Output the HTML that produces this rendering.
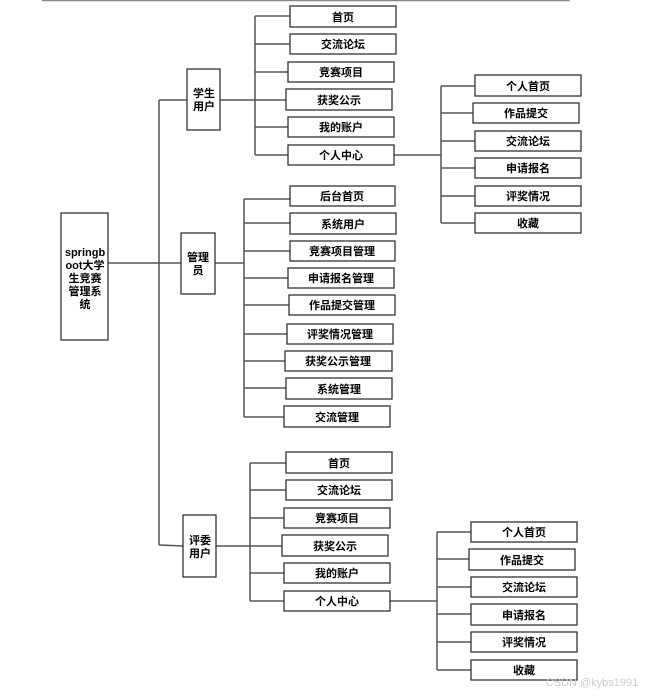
<!DOCTYPE html>
<html><head><meta charset="utf-8"><style>
html,body{margin:0;padding:0;background:#fff;}
svg text{font-family:"Liberation Sans","Noto Sans CJK SC",sans-serif;font-size:11px;font-weight:bold;fill:#000;text-anchor:middle;}
</style></head><body>
<svg width="645" height="693" viewBox="0 0 645 693" xmlns="http://www.w3.org/2000/svg">
<line x1="42" y1="0.5" x2="570" y2="0.5" stroke="#888" stroke-width="1.5"/>
<g stroke="#555" stroke-width="1.5" fill="none">
<!-- main -->
<line x1="108" y1="263" x2="181" y2="263"/>
<line x1="159" y1="100" x2="159" y2="545"/>
<line x1="159" y1="100" x2="187" y2="100"/>
<line x1="159" y1="545" x2="183" y2="546"/>
<!-- student -->
<line x1="220" y1="100" x2="286" y2="100"/>
<line x1="255" y1="16" x2="255" y2="155"/>
<line x1="255" y1="16" x2="290" y2="16"/>
<line x1="255" y1="44" x2="290" y2="44"/>
<line x1="255" y1="72" x2="288" y2="72"/>
<line x1="255" y1="127" x2="288" y2="127"/>
<line x1="255" y1="155" x2="288" y2="155"/>
<line x1="394" y1="155" x2="441" y2="155"/>
<line x1="441" y1="86" x2="441" y2="223"/>
<line x1="441" y1="86" x2="475" y2="86"/>
<line x1="441" y1="113" x2="473" y2="113"/>
<line x1="441" y1="141" x2="475" y2="141"/>
<line x1="441" y1="168" x2="475" y2="168"/>
<line x1="441" y1="196" x2="475" y2="196"/>
<line x1="441" y1="223" x2="475" y2="223"/>
<!-- admin -->
<line x1="215" y1="263" x2="244" y2="263"/>
<line x1="244" y1="199" x2="244" y2="417"/>
<line x1="244" y1="199" x2="290" y2="199"/>
<line x1="244" y1="223" x2="290" y2="223"/>
<line x1="244" y1="251" x2="290" y2="251"/>
<line x1="244" y1="278" x2="288" y2="278"/>
<line x1="244" y1="305" x2="289" y2="305"/>
<line x1="244" y1="334" x2="287" y2="334"/>
<line x1="244" y1="361" x2="285" y2="361"/>
<line x1="244" y1="388" x2="286" y2="388"/>
<line x1="244" y1="417" x2="284" y2="417"/>
<!-- judge -->
<line x1="216" y1="546" x2="282" y2="546"/>
<line x1="250" y1="463" x2="250" y2="601"/>
<line x1="250" y1="463" x2="286" y2="463"/>
<line x1="250" y1="490" x2="286" y2="490"/>
<line x1="250" y1="518" x2="284" y2="518"/>
<line x1="250" y1="573" x2="284" y2="573"/>
<line x1="250" y1="601" x2="284" y2="601"/>
<line x1="390" y1="601" x2="437" y2="601"/>
<line x1="437" y1="532" x2="437" y2="670"/>
<line x1="437" y1="532" x2="471" y2="532"/>
<line x1="437" y1="559" x2="469" y2="559"/>
<line x1="437" y1="587" x2="471" y2="587"/>
<line x1="437" y1="614" x2="471" y2="614"/>
<line x1="437" y1="642" x2="471" y2="642"/>
<line x1="437" y1="670" x2="471" y2="670"/>
</g>
<g fill="#fff" stroke="#333" stroke-width="1.3">
<rect x="61" y="213" width="47" height="127"/>
<rect x="187" y="69" width="33" height="61"/>
<rect x="181" y="233" width="34" height="61"/>
<rect x="183" y="515" width="33" height="62"/>
<!-- student -->
<rect x="290" y="6" width="106" height="21"/>
<rect x="290" y="34" width="106" height="20"/>
<rect x="288" y="62" width="106" height="20"/>
<rect x="286" y="89" width="106" height="21"/>
<rect x="288" y="117" width="106" height="20"/>
<rect x="288" y="145" width="106" height="20"/>
<rect x="475" y="75" width="106" height="21"/>
<rect x="473" y="103" width="106" height="20"/>
<rect x="475" y="131" width="106" height="20"/>
<rect x="475" y="158" width="106" height="20"/>
<rect x="475" y="186" width="106" height="20"/>
<rect x="475" y="213" width="106" height="20"/>
<!-- admin -->
<rect x="290" y="186" width="105" height="20"/>
<rect x="290" y="213" width="106" height="21"/>
<rect x="290" y="241" width="105" height="20"/>
<rect x="288" y="268" width="106" height="20"/>
<rect x="289" y="295" width="106" height="20"/>
<rect x="287" y="324" width="106" height="20"/>
<rect x="285" y="351" width="107" height="20"/>
<rect x="286" y="378" width="106" height="21"/>
<rect x="284" y="406" width="106" height="21"/>
<!-- judge -->
<rect x="286" y="452" width="106" height="21"/>
<rect x="286" y="480" width="106" height="20"/>
<rect x="284" y="508" width="106" height="20"/>
<rect x="282" y="535" width="106" height="21"/>
<rect x="284" y="563" width="106" height="20"/>
<rect x="284" y="591" width="106" height="20"/>
<rect x="471" y="522" width="106" height="20"/>
<rect x="469" y="549" width="106" height="21"/>
<rect x="471" y="577" width="106" height="20"/>
<rect x="471" y="604" width="106" height="21"/>
<rect x="471" y="632" width="106" height="20"/>
<rect x="471" y="660" width="106" height="20"/>
</g>
<g>
<text x="85" y="256">springb</text>
<text x="85" y="269">oot大学</text>
<text x="85" y="282">生竞赛</text>
<text x="85" y="295">管理系</text>
<text x="85" y="308">统</text>
<text x="204" y="97">学生</text>
<text x="204" y="110">用户</text>
<text x="198" y="261">管理</text>
<text x="198" y="274">员</text>
<text x="200" y="544">评委</text>
<text x="200" y="557">用户</text>

<text x="343" y="21">首页</text>
<text x="343" y="48">交流论坛</text>
<text x="341" y="76">竞赛项目</text>
<text x="339" y="104">获奖公示</text>
<text x="341" y="131">我的账户</text>
<text x="341" y="159">个人中心</text>
<text x="528" y="90">个人首页</text>
<text x="526" y="117">作品提交</text>
<text x="528" y="145">交流论坛</text>
<text x="528" y="172">申请报名</text>
<text x="528" y="200">评奖情况</text>
<text x="528" y="227">收藏</text>

<text x="342" y="200">后台首页</text>
<text x="343" y="228">系统用户</text>
<text x="342" y="255">竞赛项目管理</text>
<text x="341" y="282">申请报名管理</text>
<text x="342" y="309">作品提交管理</text>
<text x="340" y="338">评奖情况管理</text>
<text x="338" y="365">获奖公示管理</text>
<text x="339" y="393">系统管理</text>
<text x="337" y="421">交流管理</text>

<text x="339" y="467">首页</text>
<text x="339" y="494">交流论坛</text>
<text x="337" y="522">竞赛项目</text>
<text x="335" y="550">获奖公示</text>
<text x="337" y="577">我的账户</text>
<text x="337" y="605">个人中心</text>
<text x="524" y="536">个人首页</text>
<text x="522" y="564">作品提交</text>
<text x="524" y="591">交流论坛</text>
<text x="524" y="619">申请报名</text>
<text x="524" y="646">评奖情况</text>
<text x="524" y="674">收藏</text>
</g>
<text x="592" y="686" style="fill:#ccc;font-weight:normal;font-size:11px">CSDN @kybs1991</text>
</svg>
</body></html>
